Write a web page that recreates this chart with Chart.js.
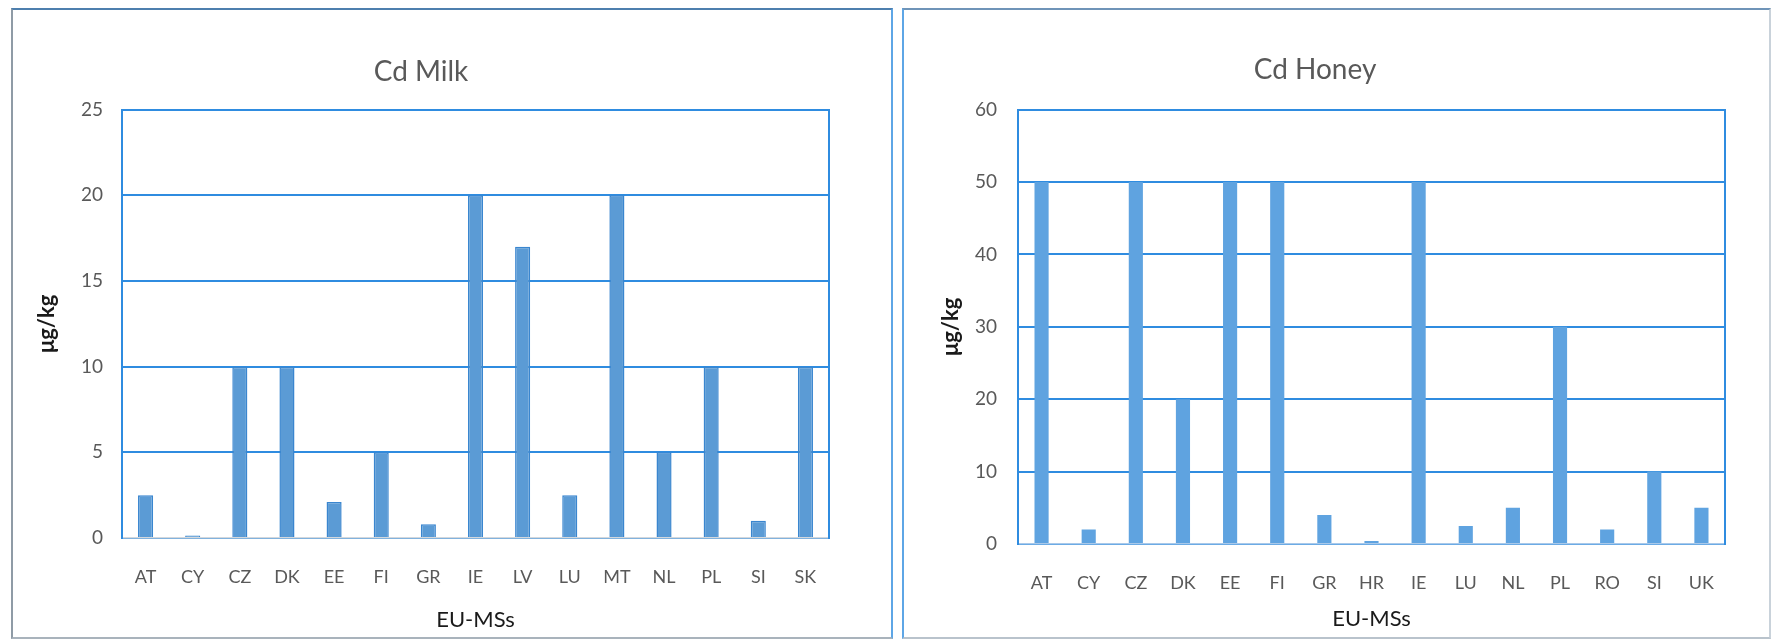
<!DOCTYPE html>
<html><head><meta charset="utf-8">
<script src="https://cdn.jsdelivr.net/npm/chart.js@4"></script>
<style>
html,body{margin:0;padding:0;background:#fff;width:1773px;height:642px;overflow:hidden;}
.panel{position:absolute;box-sizing:border-box;}
#p1{left:11px;top:8px;width:882px;height:631px;border-top:2px solid #4d7fae;border-left:2px solid #8f9ba6;border-bottom:2px solid #a9b3bc;border-right:2px solid #5ea6e6;}
#p2{left:902px;top:8px;width:869px;height:631px;border-top:2px solid #6f94b8;border-left:2px solid #5ea6e6;border-right:2px solid #c9d2da;border-bottom:2px solid #b9c3cc;}
.cw{position:absolute;}
#w1{left:13px;top:10px;width:878px;height:627px;}
#w2{left:905px;top:10px;width:863px;height:627px;}
</style>
</head><body>
<div class="panel" id="p1"></div>
<div class="panel" id="p2"></div>
<div class="cw" id="w1"><canvas id="c1" width="878" height="627"></canvas></div>
<div class="cw" id="w2"><canvas id="c2" width="863" height="627"></canvas></div>
<script>
const milkCategories = ['AT','CY','CZ','DK','EE','FI','GR','IE','LV','LU','MT','NL','PL','SI','SK'];
const milkValues = [2.5, 0.15, 10, 10, 2.1, 5, 0.8, 20, 17, 2.5, 20, 5, 10, 1, 10];
const honeyCategories = ['AT','CY','CZ','DK','EE','FI','GR','HR','IE','LU','NL','PL','RO','SI','UK'];
const honeyValues = [50, 2, 50, 20, 50, 50, 4, 0.4, 50, 2.5, 5, 30, 2, 10, 5];
const milkTitle = 'Cd Milk';
const honeyTitle = 'Cd Honey';
const yTitle = 'μg/kg';
const xTitle = 'EU-MSs';

const FONT = 'Lato, "Liberation Sans", sans-serif';
const GRID = '#2f8ce0';
const TICK = '#595959';

function makeChart(id, cats, vals, title, cfg) {
  return new Chart(document.getElementById(id), {
    type: 'bar',
    data: { labels: cats, datasets: [{ data: vals, backgroundColor: cfg.barColor, borderColor: cfg.barBorder, borderWidth: cfg.barBorderWidth, barPercentage: cfg.barPct, categoryPercentage: 1 }] },
    options: {
      responsive: false, animation: false,
      layout: { padding: { left: 0, top: 0, bottom: 0, right: cfg.padRight } },
      plugins: {
        legend: { display: false }, tooltip: { enabled: false },
        title: { display: true, text: title, color: TICK, font: { family: FONT, size: 28, weight: 'normal' }, padding: cfg.titlePad }
      },
      scales: {
        x: {
          grid: { display: false },
          border: { display: true, color: cfg.xBorder, width: 1.5 },
          ticks: { color: TICK, font: { family: FONT, size: 18 }, padding: cfg.xTickPad, maxRotation: 0, autoSkip: false },
          title: { display: true, text: xTitle, color: '#1a1a1a', font: { family: FONT, size: 22 }, padding: { top: 0, bottom: cfg.xTitlePad } },
          afterFit: s => { s.height = cfg.xHeight; }
        },
        y: {
          min: 0, max: cfg.yMax,
          ticks: { stepSize: cfg.yStep, color: TICK, font: { family: FONT, size: 19 }, padding: cfg.yTickPad },
          grid: { color: GRID, lineWidth: 2, drawTicks: false },
          border: { display: true, color: GRID, width: 2 },
          title: { display: true, text: yTitle, color: '#1a1a1a', font: { family: FONT, size: 22, weight: 'bold' }, padding: { top: cfg.yTitlePad, bottom: 0 } },
          afterFit: s => { s.width = cfg.yWidth; }
        },
        y2: {
          position: 'right', min: 0, max: cfg.yMax,
          ticks: { display: false }, grid: { display: false, drawTicks: false },
          border: { display: true, color: GRID, width: 2 },
          afterFit: s => { s.width = 0; }
        }
      }
    }
  });
}

makeChart('c1', milkCategories, milkValues, milkTitle, {
  barColor: '#5b9bd5', barBorder: '#3a86cf', barBorderWidth: 1.5, barPct: 0.32,
  padRight: 62, titlePad: { top: 45, bottom: 21 }, xBorder: '#d4d8dc',
  xTickPad: 20, xTitlePad: 4, xHeight: 99, yMax: 25, yStep: 5, yTickPad: 19, yTitlePad: 21, yWidth: 109
});
makeChart('c2', honeyCategories, honeyValues, honeyTitle, {
  barColor: '#5fa3e0', barBorder: '#5fa3e0', barBorderWidth: 0, barPct: 0.30,
  padRight: 43, titlePad: { top: 43, bottom: 23 }, xBorder: '#a9c9ea',
  xTickPad: 20, xTitlePad: 5, xHeight: 93, yMax: 60, yStep: 10, yTickPad: 21, yTitlePad: 33, yWidth: 113
});
</script>
</body></html>
